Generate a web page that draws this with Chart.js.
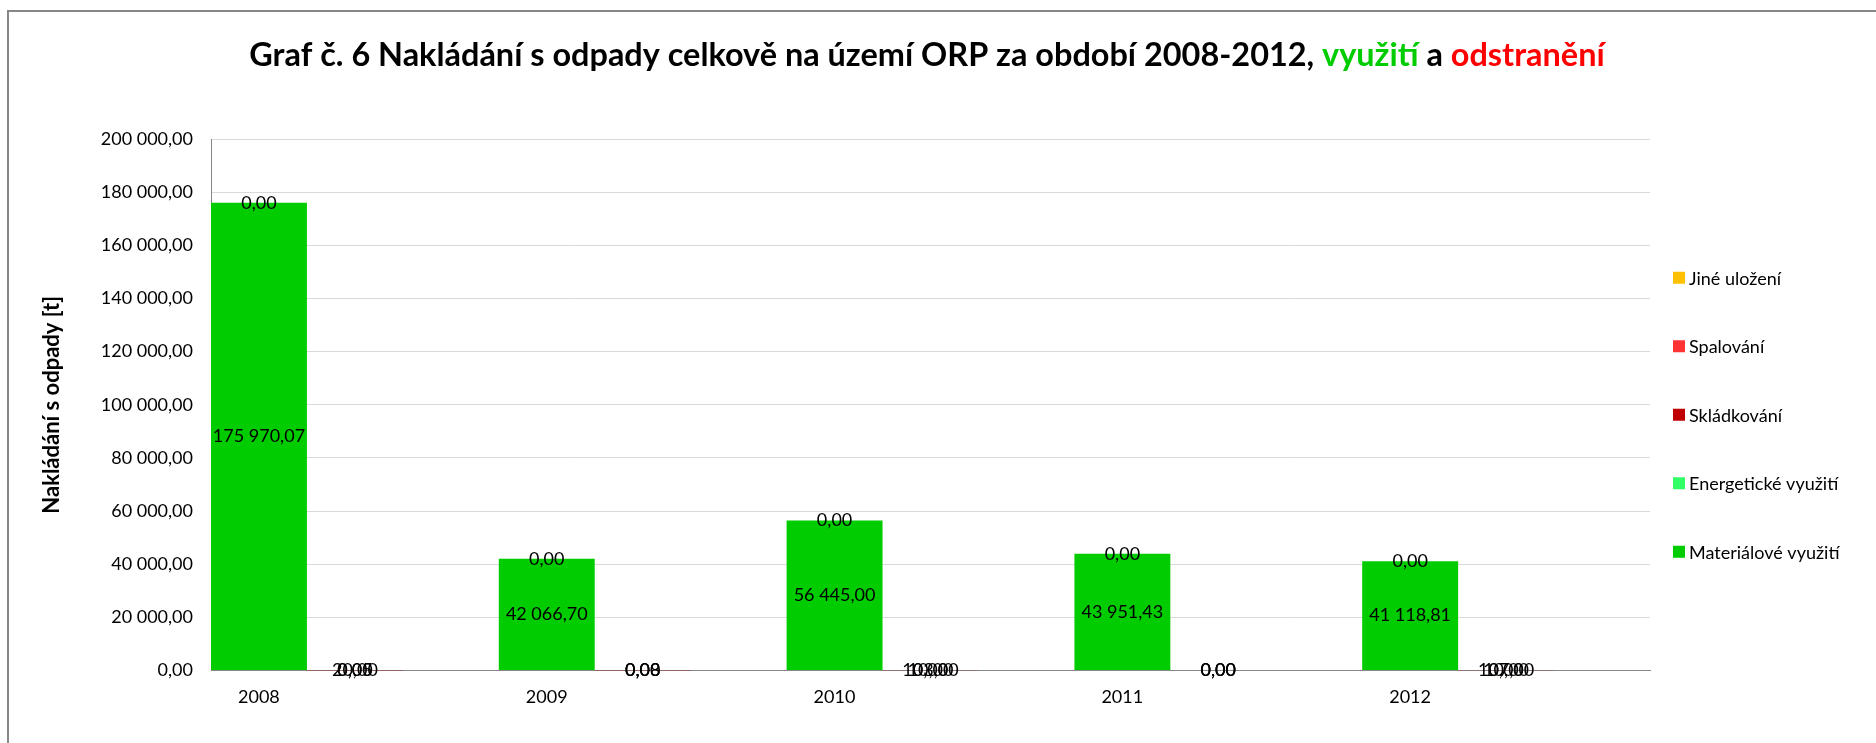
<!DOCTYPE html>
<html>
<head>
<meta charset="utf-8">
<title>Graf č. 6</title>
<script src="https://cdn.jsdelivr.net/npm/chart.js@4.4.1/dist/chart.umd.min.js"></script>
<style>
  html, body { margin: 0; padding: 0; background: #fff; }
  #wrap { position: relative; width: 1876px; height: 743px; }
</style>
</head>
<body>
<div id="wrap"><canvas id="chart" width="1876" height="743"></canvas></div>
<script>
// values (tonnes)
const years = ["2008", "2009", "2010", "2011", "2012"];
const materialove = [175970.07, 42066.70, 56445.00, 43951.43, 41118.81];
const energeticke = [0, 0, 0, 0, 0];
const skladkovani = [0.05, 0.03, 103.00, 0, 107.00];
const spalovani = [20.00, 0.08, 10.00, 0, 10.00];
const jine = [0, 0, 0, 0, 0];
const mezera = [0, 0, 0, 0, 0]; // empty third slot in each year
const yMin = 0;
const yMax = 200000;
const yStep = 20000;

const FONT = "Lato, 'Open Sans', sans-serif";

function fmt(v) {
  const parts = Number(v).toFixed(2).split(".");
  parts[0] = parts[0].replace(/\B(?=(\d{3})+(?!\d))/g, " ");
  return parts.join(",");
}

const titleParts = [
  { text: "Graf č. 6 Nakládání s odpady celkově na území ORP za období 2008-2012, ", color: "#000000" },
  { text: "využití", color: "#00CC00" },
  { text: " a ", color: "#000000" },
  { text: "odstranění", color: "#FF0000" }
];

// frame, white background
const framePlugin = {
  id: "frame",
  beforeDraw(chart) {
    const ctx = chart.ctx;
    ctx.save();
    ctx.fillStyle = "#ffffff";
    ctx.fillRect(0, 0, chart.width, chart.height);
    ctx.strokeStyle = "#878787";
    ctx.lineWidth = 2;
    ctx.beginPath();
    ctx.moveTo(8, chart.height);
    ctx.lineTo(8, 11);
    ctx.lineTo(chart.width, 11);
    ctx.stroke();
    ctx.restore();
  }
};

// title in several colours
const titlePlugin = {
  id: "multiTitle",
  afterDraw(chart) {
    const ctx = chart.ctx;
    ctx.save();
    const full = titleParts.map(p => p.text).join("");
    ctx.font = "bold 100px " + FONT;
    const size = 100 * 1356 / ctx.measureText(full).width;
    ctx.font = "bold " + size + "px " + FONT;
    ctx.textBaseline = "middle";
    ctx.textAlign = "left";
    let x = 927 - ctx.measureText(full).width / 2;
    titleParts.forEach(p => {
      ctx.fillStyle = p.color;
      ctx.fillText(p.text, x, 56);
      x += ctx.measureText(p.text).width;
    });
    ctx.restore();
  }
};

// value labels in the middle of each segment
const labelPlugin = {
  id: "segmentLabels",
  afterDatasetsDraw(chart) {
    const ctx = chart.ctx;
    ctx.save();
    ctx.font = "18px " + FONT;
    ctx.fillStyle = "#000000";
    ctx.textAlign = "center";
    ctx.textBaseline = "middle";
    chart.data.datasets.forEach((ds, i) => {
      if (ds.spacer) return;
      const meta = chart.getDatasetMeta(i);
      meta.data.forEach((bar, j) => {
        const p = bar.getProps(["x", "y", "base"], true);
        ctx.fillText(fmt(ds.data[j]), p.x, (p.y + p.base) / 2);
      });
    });
    ctx.restore();
  }
};

// legend on the right, reversed order
const legendPlugin = {
  id: "sideLegend",
  afterDraw(chart) {
    const ctx = chart.ctx;
    const area = chart.chartArea;
    const items = chart.data.datasets.filter(d => !d.spacer).slice().reverse();
    const spacing = 68.5;
    const centerY = (area.top + area.bottom) / 2 + 10;
    const startY = centerY - (items.length - 1) / 2 * spacing;
    const boxX = area.right + 23;
    ctx.save();
    ctx.font = "18px " + FONT;
    ctx.textAlign = "left";
    ctx.textBaseline = "middle";
    items.forEach((ds, i) => {
      const y = startY + i * spacing;
      ctx.fillStyle = ds.backgroundColor;
      ctx.fillRect(boxX, y - 6, 12, 12);
      ctx.fillStyle = "#000000";
      ctx.fillText(ds.label, boxX + 16, y + 1);
    });
    ctx.restore();
  }
};

const ctx = document.getElementById("chart");
new Chart(ctx, {
  type: "bar",
  data: {
    labels: years,
    datasets: [
      { label: "Materiálové využití", data: materialove, backgroundColor: "#00CC00", stack: "vyuziti" },
      { label: "Energetické využití", data: energeticke, backgroundColor: "#33FF66", stack: "vyuziti" },
      { label: "Skládkování", data: skladkovani, backgroundColor: "#C00000", stack: "odstraneni" },
      { label: "Spalování", data: spalovani, backgroundColor: "#FF3333", stack: "odstraneni" },
      { label: "Jiné uložení", data: jine, backgroundColor: "#FFC000", stack: "odstraneni" },
      { label: "", data: mezera, backgroundColor: "rgba(0,0,0,0)", stack: "mezera", spacer: true }
    ]
  },
  options: {
    responsive: false,
    animation: false,
    categoryPercentage: 1,
    barPercentage: 1,
    borderWidth: 0,
    inflateAmount: 0,
    layout: { padding: { top: 139, right: 226, left: 20, bottom: 0 } },
    plugins: {
      legend: { display: false },
      title: { display: false },
      tooltip: { enabled: false }
    },
    scales: {
      x: {
        stacked: true,
        grid: { display: false, drawTicks: false },
        border: { color: "#868686", width: 1 },
        ticks: {
          color: "#000000",
          font: { family: FONT, size: 18 },
          padding: 16,
          labelOffset: -96,
          maxRotation: 0
        },
        afterFit(scale) { scale.height = 72.5; }
      },
      y: {
        stacked: true,
        min: yMin,
        max: yMax,
        grid: { color: "#D9D9D9", drawTicks: false },
        border: { color: "#868686", width: 1 },
        ticks: {
          stepSize: yStep,
          color: "#000000",
          font: { family: FONT, size: 18 },
          padding: 18,
          callback: v => fmt(v)
        },
        title: {
          display: true,
          text: "Nakládání s odpady [t]",
          color: "#000000",
          font: { family: FONT, size: 22, weight: "bold" },
          padding: { top: 19, bottom: 0 }
        },
        afterFit(scale) { scale.width = 191; }
      }
    }
  },
  plugins: [framePlugin, titlePlugin, labelPlugin, legendPlugin]
});
</script>
</body>
</html>
